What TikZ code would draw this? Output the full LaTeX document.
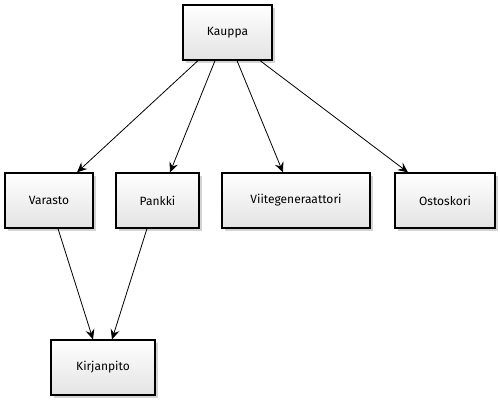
\documentclass[tikz,border=0pt]{standalone}
\usepackage{fontspec}
\setmainfont{Fira Sans}
\usepackage{tikz}
\usetikzlibrary{arrows.meta,shadows}

\begin{document}
\begin{tikzpicture}[>={Stealth[length=10pt,width=9pt,inset=3.5pt]},
  cls/.style={draw, line width=1.2pt, top color=white, bottom color=gray!22,
    drop shadow={shadow xshift=2.5pt, shadow yshift=-2.5pt, opacity=0.35},
    minimum height=55pt, inner sep=0pt, font=\fontsize{12}{14}\selectfont},
  dep/.style={->, line width=0.8pt}]
  \useasboundingbox (0pt, 0pt) rectangle (500pt, -400pt);
  \draw (227.5pt, -32.5pt)node[cls, minimum width=89pt](kauppa){Kauppa};
  \draw (49.0pt, -200.5pt)node[cls, minimum width=88pt](varasto){Varasto};
  \draw (157.5pt, -200.5pt)node[cls, minimum width=83pt](pankki){Pankki};
  \draw (296.0pt, -200.5pt)node[cls, minimum width=148pt](viite){Viitegeneraattori};
  \draw (445.0pt, -200.5pt)node[cls, minimum width=100pt](ostoskori){Ostoskori};
  \draw (103.0pt, -367.5pt)node[cls, minimum width=104pt](kirjanpito){Kirjanpito};
  \path[dep] ([xshift=-29.5pt]kauppa.south) edge ([xshift=28pt]varasto.north);
  \path[dep] ([xshift=-12.5pt]kauppa.south) edge ([xshift=12.5pt]pankki.north);
  \path[dep] ([xshift=9.5pt]kauppa.south) edge ([xshift=-13pt]viite.north);
  \path[dep] ([xshift=32.5pt]kauppa.south) edge ([xshift=-37pt]ostoskori.north);
  \path[dep] ([xshift=9pt]varasto.south) edge ([xshift=-10pt]kirjanpito.north);
  \path[dep] ([xshift=-10.5pt]pankki.south) edge ([xshift=9pt]kirjanpito.north);
\end{tikzpicture}
\end{document}
